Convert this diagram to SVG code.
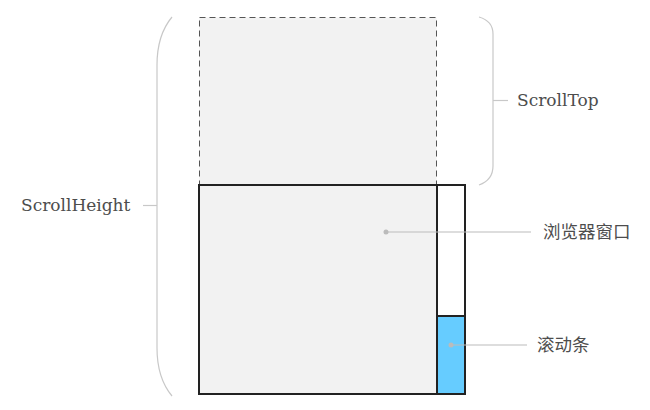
<svg xmlns="http://www.w3.org/2000/svg" width="650" height="410" viewBox="0 0 650 410">
<style>
.lbl{font-family:"DejaVu Serif","Liberation Serif",serif;font-size:17px;fill:#4d4d4d}
.cjk{font-family:"Noto Sans CJK SC",sans-serif;font-size:17.5px;fill:#4d4d4d}
.brace{fill:none;stroke:#c8c8c8;stroke-width:1.2}
.lead{fill:none;stroke:#bbb;stroke-width:1.2}
.dot{fill:#bbb}
</style>
<rect width="650" height="410" fill="#fff"/>
<g id="scroll-content">
<rect x="199.5" y="17.5" width="237" height="167.5" fill="#f2f2f2" stroke="#555" stroke-width="1" stroke-dasharray="6,4"/>
</g>
<g id="browser-window">
<rect x="199" y="185" width="238" height="209" fill="#f2f2f2"/>
<rect x="437" y="185" width="28" height="209" fill="#fff"/>
<rect x="437" y="316" width="28" height="78" fill="#66ccff" stroke="#222" stroke-width="2"/>
<line x1="437" y1="185" x2="437" y2="394" stroke="#222" stroke-width="2"/>
<rect x="199" y="185" width="266" height="209" fill="none" stroke="#222" stroke-width="2"/>
</g>
<g id="connectors">
<path class="brace" d="M172,17 Q157,35 157,65 V348 Q157,378 172,396"/>
<line class="brace" x1="143" y1="205.5" x2="157" y2="205.5"/>
<path class="brace" d="M479,17 Q493,21 493,34 V166 Q493,180 479,185"/>
<line class="brace" x1="493" y1="100.5" x2="508" y2="100.5"/>
<circle class="dot" cx="386" cy="232" r="2.5"/>
<line class="lead" x1="386" y1="232" x2="531" y2="232"/>
<circle class="dot" cx="451" cy="345" r="2.5"/>
<line class="lead" x1="451" y1="345" x2="527" y2="345"/>
</g>
<g id="label-scrolltop"><text class="lbl" x="517" y="106">ScrollTop</text></g>
<g id="label-scrollheight"><text class="lbl" x="21" y="211">ScrollHeight</text></g>
<g id="label-window"><text class="cjk" x="543" y="238">浏览器窗口</text></g>
<g id="label-scrollbar"><text class="cjk" x="537" y="351">滚动条</text></g>
</svg>
